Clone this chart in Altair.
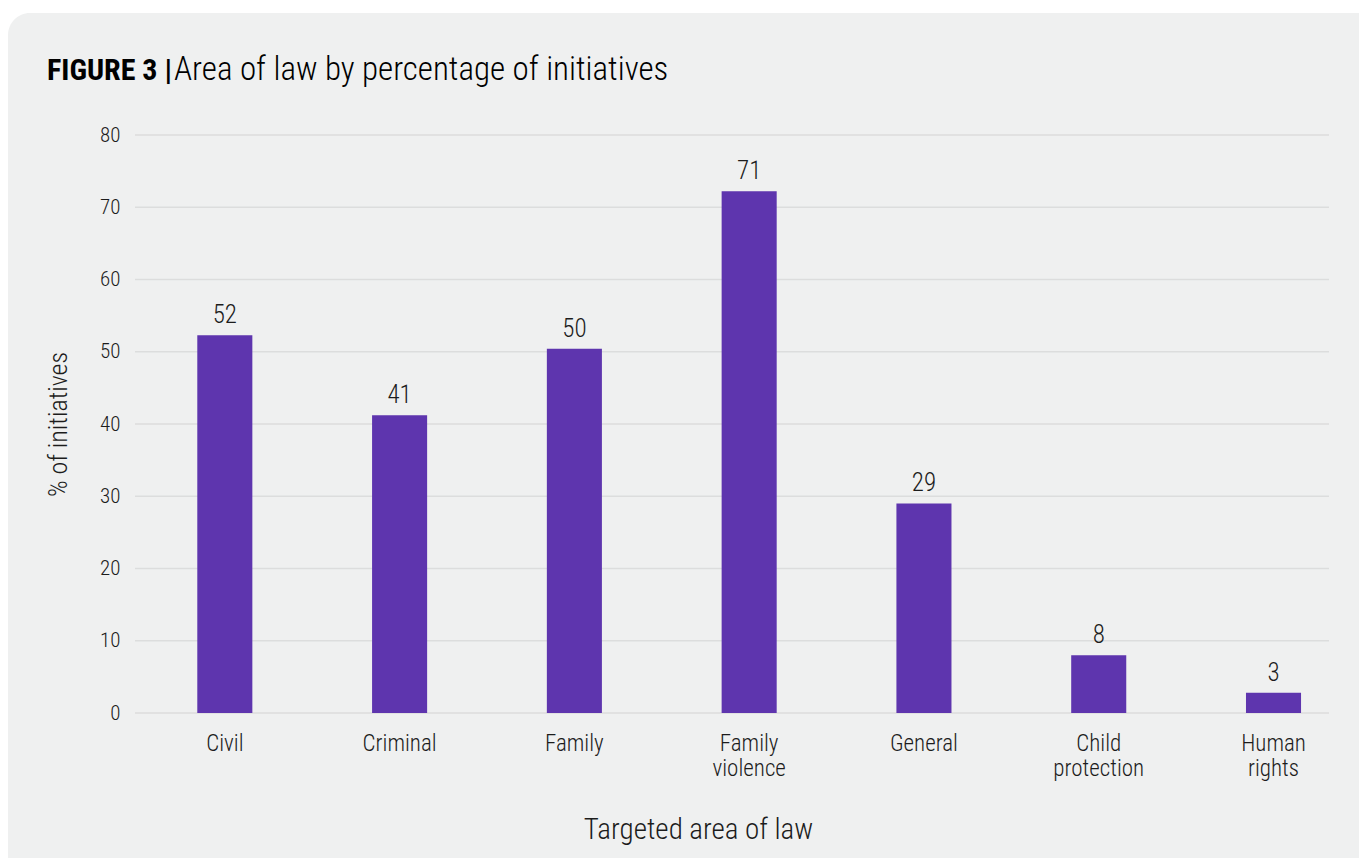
import altair as alt
import pandas as pd

categories = ["Civil", "Criminal", "Family", "Family violence", "General", "Child protection", "Human rights"]
values = [52.3, 41.2, 50.4, 72.2, 29.0, 8.0, 2.8]
labels = ["52", "41", "50", "71", "29", "8", "3"]
y_ticks = [0, 10, 20, 30, 40, 50, 60, 70, 80]

FONT = "'Roboto Condensed', 'Liberation Sans Narrow', 'DejaVu Sans Condensed', 'Arial Narrow', Roboto, sans-serif"
INK = "#1c1c1c"
BAR = "#5e35ae"
PANEL = "#eff0f0"
LIGHT = 300

df = pd.DataFrame({"cat": categories, "val": values, "lab": labels})
grid_df = pd.DataFrame({"t": y_ticks})
one = pd.DataFrame({"a": [0]})

W, H = 1224, 578

xscale = alt.Scale(domain=categories, paddingInner=0.685, paddingOuter=0.344, align=0.518)
yscale = alt.Scale(domain=[0, 80], nice=False)

yaxis = alt.Axis(title="% of initiatives", values=y_ticks, grid=False, domain=False, ticks=False,
                 labelFontSize=21, labelColor=INK, labelFont=FONT, labelFontWeight=LIGHT, labelPadding=15,
                 titleFont=FONT, titleFontSize=26, titleFontWeight=LIGHT, titleColor=INK,
                 titleAngle=270, titleX=-77, titleY=289, titleAlign="center",
                 titleBaseline="middle", zindex=2)
xaxis = alt.Axis(title="Targeted area of law", labelExpr="split(datum.label, ' ')",
                 labelAngle=0, labelFontSize=23, labelColor=INK, labelFont=FONT, labelFontWeight=LIGHT,
                 labelPadding=19, labelLineHeight=25, domain=False, ticks=False,
                 titleFont=FONT, titleFontSize=29, titleFontWeight=LIGHT, titleColor=INK,
                 titleX=563, titleY=116, titleAlign="center", titleBaseline="middle", zindex=2)

panel = alt.Chart(one).mark_rect(fill=PANEL, cornerRadius=22).encode(
    x=alt.value(-127), x2=alt.value(1260), y=alt.value(-122), y2=alt.value(760)
)

grid = alt.Chart(grid_df).mark_rule(color="#dcdddd", strokeWidth=1.5).encode(
    y=alt.Y("t:Q", scale=yscale, axis=yaxis),
    x=alt.value(0), x2=alt.value(1194),
)

bars = alt.Chart(df).mark_bar(color=BAR).encode(
    x=alt.X("cat:N", scale=xscale, sort=categories, axis=xaxis),
    y=alt.Y("val:Q", scale=yscale, axis=yaxis),
)

texts = alt.Chart(df).mark_text(baseline="bottom", dy=-7, fontSize=25, font=FONT, fontWeight=LIGHT,
                                color=INK).encode(
    x=alt.X("cat:N", scale=xscale, sort=categories, axis=xaxis),
    y=alt.Y("val:Q", scale=yscale, axis=yaxis),
    text="lab:N",
)

title_bold = alt.Chart(one).mark_text(text="FIGURE 3 |", align="left", baseline="alphabetic",
                                      fontSize=30, fontWeight="bold", font=FONT, color="#000000").encode(
    x=alt.value(-88), y=alt.value(-55)
)
title_rest = alt.Chart(one).mark_text(text="Area of law by percentage of initiatives", align="left",
                                      baseline="alphabetic", fontSize=33, fontWeight=LIGHT, font=FONT,
                                      color="#000000").encode(
    x=alt.value(39), y=alt.value(-55)
)

chart = alt.layer(panel, grid, bars, texts, title_bold, title_rest).properties(
    width=W, height=H,
    autosize=alt.AutoSizeParams(type="none"),
    padding={"left": 127, "top": 127, "right": 0, "bottom": 145},
    background="white",
).configure_view(stroke=None)

chart.save("out.html", embed_options={"renderer": "svg", "actions": False})
